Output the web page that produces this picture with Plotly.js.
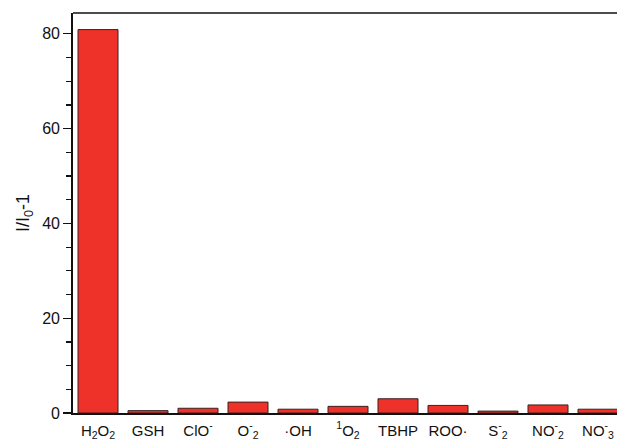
<!DOCTYPE html>
<html>
<head>
<meta charset="utf-8">
<script src="https://cdn.plot.ly/plotly-3.0.1.min.js"></script>
<style>html,body{margin:0;padding:0;background:#fff;overflow:hidden;}#chart{width:618px;height:441px;}</style>
</head>
<body>
<div id="chart"></div>
<script>
const categories = ["H<sub>2</sub>O<sub>2</sub>", "GSH", "ClO<sup>-</sup>", "O<sup>-</sup><sub>2</sub>", "·OH",
  "<sup>1</sup>O<sub>2</sub>", "TBHP", "ROO·", "S<sup>-</sup><sub>2</sub>", "NO<sup>-</sup><sub>2</sub>", "NO<sup>-</sup><sub>3</sub>"];
const values = [80.9, 0.5, 1.0, 2.3, 0.8, 1.4, 3.0, 1.6, 0.4, 1.7, 0.8];
const yTicks = [0, 20, 40, 60, 80];

const xIdx = categories.map((c, i) => i);

Plotly.newPlot('chart', [{
  type: 'bar',
  x: xIdx,
  y: values,
  width: 0.8,
  marker: {color: '#EE3129', line: {color: '#3a2020', width: 1}},
  hoverinfo: 'none'
}], {
  width: 618, height: 441,
  margin: {l: 73, r: 1, t: 13, b: 28},
  paper_bgcolor: '#fff', plot_bgcolor: '#fff',
  showlegend: false,
  font: {family: 'Liberation Sans, Arial, sans-serif', color: '#111', size: 15},
  xaxis: {
    range: [-0.5, 10.38],
    tickmode: 'array', tickvals: xIdx, ticktext: categories,
    showline: true, linecolor: '#111', linewidth: 1.5,
    ticks: '', showgrid: false, zeroline: false,
    ticklabelstandoff: 3,
    tickfont: {size: 15}
  },
  yaxis: {
    range: [0, 84.4],
    tickmode: 'array', tickvals: yTicks,
    showline: true, linecolor: '#111', linewidth: 1.8,
    ticks: 'outside', ticklen: 8, tickwidth: 1.2, tickcolor: '#111',
    minor: {dtick: 5, ticks: 'outside', ticklen: 5, tickwidth: 1.2, tickcolor: '#111', showgrid: false},
    showgrid: false, zeroline: false,
    tickfont: {size: 16},
    title: {text: 'I/I<sub>0</sub>-1', font: {size: 18}, standoff: 8}
  },
  shapes: [{
    type: 'line', xref: 'paper', yref: 'paper', x0: 0, x1: 1, y0: 1, y1: 1,
    line: {color: '#111', width: 1.5}
  }]
}, {staticPlot: true, displayModeBar: false});
</script>
</body>
</html>
